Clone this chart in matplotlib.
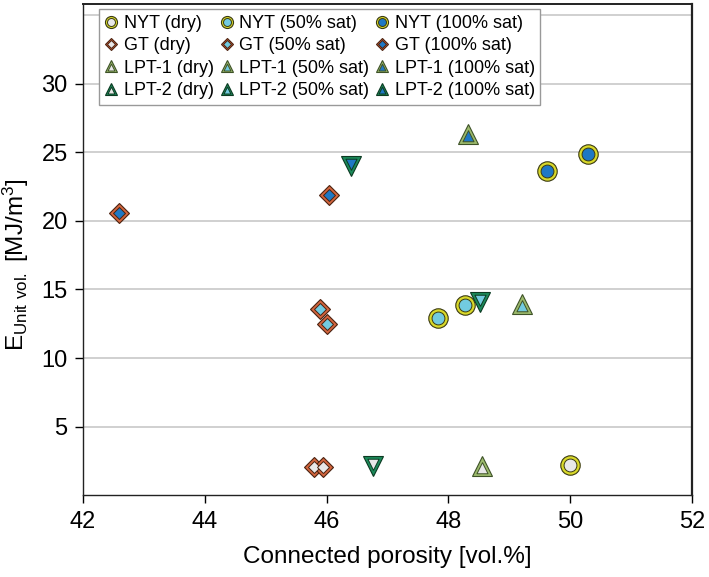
import matplotlib
matplotlib.use("Agg")
import matplotlib.pyplot as plt
from matplotlib.path import Path
from matplotlib.lines import Line2D
import numpy as np

plt.rcParams['font.family'] = ['Liberation Sans', 'DejaVu Sans']
plt.rcParams['mathtext.default'] = 'regular'

# data (connected porosity [vol.%], E [MJ/m3])
nyt_dry_x = [50.00]
nyt_dry_y = [2.2]
nyt_50_x = [47.83, 48.28]
nyt_50_y = [12.9, 13.85]
nyt_100_x = [49.62, 50.30]
nyt_100_y = [23.65, 24.85]

gt_dry_x = [45.79, 45.94]
gt_dry_y = [2.05, 2.08]
gt_50_x = [45.90, 46.01]
gt_50_y = [13.55, 12.5]
gt_100_x = [42.60, 46.04]
gt_100_y = [20.55, 21.85]

lpt1_dry_x = [48.55]
lpt1_dry_y = [2.1]
lpt1_50_x = [49.21]
lpt1_50_y = [13.95]
lpt1_100_x = [48.33]
lpt1_100_y = [26.3]

lpt2_dry_x = [46.76]
lpt2_dry_y = [2.15]
lpt2_50_x = [48.52]
lpt2_50_y = [14.05]
lpt2_100_x = [46.40]
lpt2_100_y = [24.0]

rocks = ['NYT', 'GT', 'LPT-1', 'LPT-2']
states = ['dry', '50% sat', '100% sat']

data = {
    ('NYT', 'dry'): (nyt_dry_x, nyt_dry_y),
    ('NYT', '50% sat'): (nyt_50_x, nyt_50_y),
    ('NYT', '100% sat'): (nyt_100_x, nyt_100_y),
    ('GT', 'dry'): (gt_dry_x, gt_dry_y),
    ('GT', '50% sat'): (gt_50_x, gt_50_y),
    ('GT', '100% sat'): (gt_100_x, gt_100_y),
    ('LPT-1', 'dry'): (lpt1_dry_x, lpt1_dry_y),
    ('LPT-1', '50% sat'): (lpt1_50_x, lpt1_50_y),
    ('LPT-1', '100% sat'): (lpt1_100_x, lpt1_100_y),
    ('LPT-2', 'dry'): (lpt2_dry_x, lpt2_dry_y),
    ('LPT-2', '50% sat'): (lpt2_50_x, lpt2_50_y),
    ('LPT-2', '100% sat'): (lpt2_100_x, lpt2_100_y),
}

# band colour, outline colour per rock
rock_style = {
    'NYT': ('#d9d92a', '#3a3a12'),
    'GT': ('#d4663e', '#4a2210'),
    'LPT-1': ('#9cba6c', '#3e5228'),
    'LPT-2': ('#1b8a5a', '#0c3a22'),
}
fill_colors = {'dry': '#e8e8e8', '50% sat': '#72cbe0', '100% sat': '#1f78c4'}


def tri_inner(up, k):
    # inner triangle shrunk about the incentre so the band has even width
    verts = np.array([[0, 0.5], [-0.5, -0.5], [0.5, -0.5]])
    if not up:
        verts[:, 1] *= -1
    side = np.sqrt(0.25 + 1.0)
    w = np.array([1.0, side, side])
    c = (verts * w[:, None]).sum(axis=0) / w.sum()
    inner = c + k * (verts - c)
    scale = np.abs(inner).max() / 0.5
    path = Path(np.vstack([inner, inner[:1]]), closed=True)
    return path, scale


def marker_pair(rock, legend=False):
    if rock == 'NYT':
        return 'o', 14, 'o', 14 * 0.66
    if rock == 'GT':
        return 'D', 10, 'D', 10 * 0.6
    # legend shows LPT-2 as an upward triangle too
    up = rock == 'LPT-1' or legend
    path, scale = tri_inner(up, 0.55)
    return ('^' if up else 'v'), 14.5, path, 14.5 * scale


fig = plt.figure(figsize=(7.09, 5.77), dpi=100)
ax = fig.add_axes([0.117, 0.1416, 0.859, 0.8514])

for rock in rocks:
    band, edge = rock_style[rock]
    m_out, s_out, m_in, s_in = marker_pair(rock)
    for st in states:
        x, y = data[(rock, st)]
        ax.plot(x, y, ls='none', marker=m_out, ms=s_out, mfc=band,
                mec=edge, mew=0.8, zorder=3)
        ax.plot(x, y, ls='none', marker=m_in, ms=s_in,
                mfc=fill_colors[st], mec=edge, mew=0.7, zorder=4)

ax.set_xlim(42, 52)
ax.set_ylim(0, 35.8)
ax.set_xticks(np.arange(42, 53, 2))
ax.set_yticks(np.arange(5, 31, 5))
for yv in np.arange(5, 36, 5):
    ax.axhline(yv, color='#c8c8c8', lw=1.2, zorder=0)

ax.tick_params(direction='out', length=6, width=1, labelsize=17, colors='black', pad=5)
for sp in ax.spines.values():
    sp.set_color('#222222')
    sp.set_linewidth(1.0)
ax.spines['right'].set_linewidth(1.6)
ax.spines['top'].set_linewidth(1.4)

ax.set_xlabel('Connected porosity [vol.%]', fontsize=17.5, labelpad=10)
ax.set_ylabel(r'E$_{Unit\ vol.}$ [MJ/m$^3$]', fontsize=17.5)
ax.yaxis.set_label_coords(-0.085, 0.47)

# legend proxies (same look as the plotted markers)
leg_handles = []
leg_labels = []
for st in states:
    for rock in rocks:
        band, edge = rock_style[rock]
        m_out, s_out, m_in, s_in = marker_pair(rock, legend=True)
        p1 = Line2D([], [], ls='none', marker=m_out, ms=s_out, mfc=band,
                    mec=edge, mew=0.8)
        p2 = Line2D([], [], ls='none', marker=m_in, ms=s_in,
                    mfc=fill_colors[st], mec=edge, mew=0.7)
        leg_handles.append((p1, p2))
        leg_labels.append(f'{rock} ({st})')

lg = ax.legend(leg_handles, leg_labels, ncol=3, loc='upper left',
               bbox_to_anchor=(0.026, 0.989), borderaxespad=0,
               fontsize=13, frameon=True, fancybox=False, framealpha=1,
               edgecolor='#999999', handlelength=0.8, handletextpad=0.3,
               columnspacing=0.3, labelspacing=0.3, borderpad=0.3,
               markerscale=0.62)
lg.get_frame().set_linewidth(1.0)

fig.savefig('out.png', dpi=100)
